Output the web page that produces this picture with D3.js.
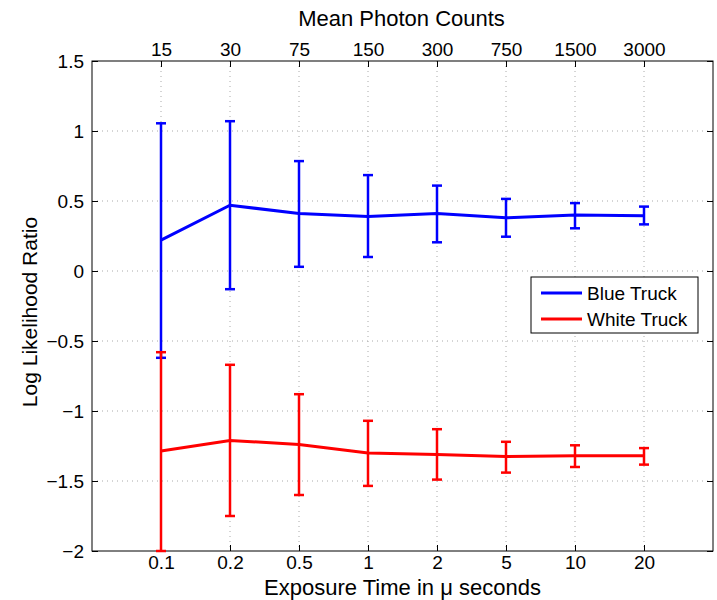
<!DOCTYPE html>
<html lang="en">
<head>
<meta charset="UTF-8">
<title>Log Likelihood Ratio</title>
<script src="https://cdn.jsdelivr.net/npm/d3@7.8.5/dist/d3.min.js"></script>
<style>
  body { margin: 0; background: #fff; font-family: 'Liberation Sans', Arial, sans-serif; }
  .tick text { font-size: 19px; fill: #000; font-family: 'Liberation Sans', Arial, sans-serif; }
</style>
</head>
<body>
<svg id="chart" width="717" height="600"></svg>
<script>
// exposure time categories and matching photon counts
const exposure = ["0.1", "0.2", "0.5", "1", "2", "5", "10", "20"];
const photons = ["15", "30", "75", "150", "300", "750", "1500", "3000"];
const yTicks = [-2, -1.5, -1, -0.5, 0, 0.5, 1, 1.5];

// blue truck: mean, upper, lower
const blueMean = [0.22, 0.47, 0.41, 0.39, 0.41, 0.38, 0.40, 0.395];
const blueHi   = [1.055, 1.07, 0.785, 0.685, 0.61, 0.515, 0.485, 0.46];
const blueLo   = [-0.62, -0.13, 0.03, 0.10, 0.205, 0.245, 0.305, 0.333];

// white truck
const redMean = [-1.285, -1.21, -1.24, -1.30, -1.31, -1.325, -1.32, -1.32];
const redHi   = [-0.58, -0.67, -0.88, -1.07, -1.13, -1.22, -1.245, -1.265];
const redLo   = [-2.0, -1.75, -1.60, -1.535, -1.49, -1.44, -1.40, -1.383];

const svg = d3.select("#chart");
const m = { left: 92, right: 713, top: 61, bottom: 551 };

const x = d3.scaleLinear().domain([0, 9]).range([m.left, m.right]);
const y = d3.scaleLinear().domain([-2, 1.5]).range([m.bottom, m.top]);
const idx = d3.range(1, 9);

// grid
const grid = svg.append("g").attr("stroke", "#aaa").attr("stroke-dasharray", "1,4").attr("stroke-width", 1);
idx.forEach(i => grid.append("line").attr("x1", x(i)).attr("x2", x(i)).attr("y1", m.top).attr("y2", m.bottom));
yTicks.slice(1, -1).forEach(v => grid.append("line").attr("x1", m.left).attr("x2", m.right).attr("y1", y(v)).attr("y2", y(v)));

// axes (ticks inward like matlab)
const axB = svg.append("g").attr("transform", `translate(0,${m.bottom})`)
  .call(d3.axisBottom(x).tickValues(idx).tickFormat(i => exposure[i - 1]).tickSizeInner(-6).tickSizeOuter(0).tickPadding(5));
const axT = svg.append("g").attr("transform", `translate(0,${m.top})`)
  .call(d3.axisTop(x).tickValues(idx).tickFormat(i => photons[i - 1]).tickSizeInner(-6).tickSizeOuter(0).tickPadding(5));
const axL = svg.append("g").attr("transform", `translate(${m.left},0)`)
  .call(d3.axisLeft(y).tickValues(yTicks).tickFormat(d => String(d).replace("-", "\u2212")).tickSizeInner(-6).tickSizeOuter(0).tickPadding(8));
const axR = svg.append("g").attr("transform", `translate(${m.right},0)`)
  .call(d3.axisRight(y).tickValues(yTicks).tickFormat("").tickSizeInner(-6).tickSizeOuter(0));
[axB, axT, axL, axR].forEach(g => {
  g.select(".domain").remove();
  g.selectAll(".tick line").attr("stroke", "#000");
});

svg.append("rect").attr("x", m.left).attr("y", m.top)
  .attr("width", m.right - m.left).attr("height", m.bottom - m.top)
  .attr("fill", "none").attr("stroke", "#000").attr("stroke-width", 1);

// series
function drawSeries(mean, hi, lo, color) {
  const g = svg.append("g").attr("stroke", color).attr("fill", "none");
  g.append("path")
    .attr("d", d3.line().x((d, i) => x(i + 1)).y(d => y(d))(mean))
    .attr("stroke-width", 3);
  idx.forEach((xi, i) => {
    const cx = x(xi);
    g.append("line").attr("x1", cx).attr("x2", cx).attr("y1", y(hi[i])).attr("y2", y(lo[i])).attr("stroke-width", 2.5);
    g.append("line").attr("x1", cx - 5).attr("x2", cx + 5).attr("y1", y(hi[i])).attr("y2", y(hi[i])).attr("stroke-width", 2.5);
    g.append("line").attr("x1", cx - 5).attr("x2", cx + 5).attr("y1", y(lo[i])).attr("y2", y(lo[i])).attr("stroke-width", 2.5);
  });
}
drawSeries(blueMean, blueHi, blueLo, "#0000ff");
drawSeries(redMean, redHi, redLo, "#ff0000");

// legend
const lg = svg.append("g").attr("transform", "translate(531,277)");
lg.append("rect").attr("width", 167).attr("height", 56).attr("fill", "#fff").attr("stroke", "#000");
[["Blue Truck", "#0000ff"], ["White Truck", "#ff0000"]].forEach(([name, c], i) => {
  const yy = 16 + i * 26;
  lg.append("line").attr("x1", 10).attr("x2", 51).attr("y1", yy).attr("y2", yy).attr("stroke", c).attr("stroke-width", 3);
  lg.append("text").attr("x", 56).attr("y", yy + 7).attr("font-size", 19).text(name);
});

// titles
svg.append("text").attr("x", (m.left + m.right) / 2 - 1).attr("y", 26).attr("text-anchor", "middle")
  .attr("font-size", 22).text("Mean Photon Counts");
svg.append("text").attr("x", (m.left + m.right) / 2).attr("y", 595).attr("text-anchor", "middle")
  .attr("font-size", 22).text("Exposure Time in \u03bc seconds");
svg.append("text").attr("transform", `translate(37,${(m.top + m.bottom) / 2 + 6}) rotate(-90)`)
  .attr("text-anchor", "middle").attr("font-size", 21).text("Log Likelihood Ratio");
</script>
</body>
</html>
